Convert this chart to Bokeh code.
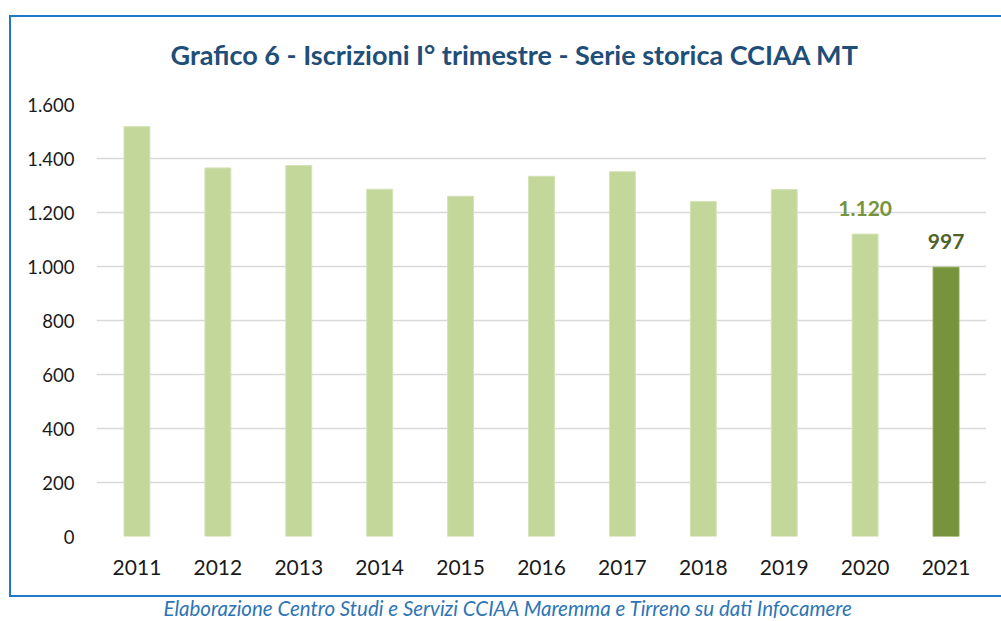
from bokeh.plotting import figure
from bokeh.models import ColumnDataSource, Title, CustomJSTickFormatter, FixedTicker, Range1d, InlineStyleSheet
from bokeh.core.properties import value
from bokeh.embed import file_html
from bokeh.resources import INLINE

years = ["2011", "2012", "2013", "2014", "2015", "2016", "2017", "2018", "2019", "2020", "2021"]
iscrizioni = [1518, 1365, 1374, 1286, 1260, 1334, 1351, 1241, 1285, 1120, 997]
labelled_years = ["2020", "2021"]
y_ticks = [0, 200, 400, 600, 800, 1000, 1200, 1400, 1600]

title_text = "Grafico 6 - Iscrizioni I° trimestre - Serie storica CCIAA MT"
footer_text = "Elaborazione Centro Studi e Servizi CCIAA Maremma e Tirreno su dati Infocamere"

LIGHT = "#C4D79B"
DARK = "#77933C"

def fmt(v):
    return "{:,}".format(v).replace(",", ".")

bar_colors = [DARK if y == "2021" else LIGHT for y in years]
bar_lines = ["#D3E2B6" if y != "2021" else "#8AA64D" for y in years]
src = ColumnDataSource(dict(x=years, top=iscrizioni, color=bar_colors, line=bar_lines))

lab_vals = [iscrizioni[years.index(y)] for y in labelled_years]
lab_src = ColumnDataSource(dict(
    x=labelled_years, y=lab_vals, text=[fmt(v) for v in lab_vals],
    color=["#77933C" if y == "2020" else "#4F6228" for y in labelled_years]))

p = figure(x_range=years, y_range=Range1d(0, 1600), width=1001, height=621,
           output_backend="svg", toolbar_location=None,
           min_border_left=96, min_border_right=15, min_border_top=104, min_border_bottom=85)
p.x_range.range_padding = 0
p.outline_line_color = None
p.background_fill_color = "white"
p.border_fill_color = "white"

p.vbar(x="x", top="top", width=0.32, fill_color="color", line_color="line", line_width=1, source=src)
p.text(x="x", y="y", text="text", text_color="color", source=lab_src,
       text_font=value("Lato"), text_font_style="bold", text_font_size="21px",
       text_align="center", text_baseline="middle", y_offset=-26)

p.xgrid.grid_line_color = None
p.ygrid.grid_line_color = "#D9D9D9"
p.ygrid.grid_line_width = 1.5

p.yaxis.ticker = FixedTicker(ticks=y_ticks)
p.yaxis.formatter = CustomJSTickFormatter(code="return tick.toString().replace(/\\B(?=(\\d{3})+(?!\\d))/g, '.')")
for ax in (p.xaxis, p.yaxis):
    ax.axis_line_color = None
    ax.major_tick_line_color = None
    ax.minor_tick_line_color = None
    ax.major_label_text_font = "Lato"
    ax.major_label_text_color = "#1a1a1a"
p.yaxis.major_label_text_font_size = "18.5px"
p.yaxis.major_label_standoff = 16
p.xaxis.major_label_text_font_size = "21px"
p.xaxis.major_label_standoff = 17

title = Title(text=title_text, align="left", offset=74, standoff=68,
              text_font="Lato", text_font_style="bold", text_font_size="27px",
              text_color="#1F4E79")
p.add_layout(title, "above")

footer = Title(text=footer_text, align="left", offset=67, standoff=0,
               padding=dict(left=0, right=0, top=16, bottom=0),
               text_font="Lato", text_font_style="italic", text_font_size="20.5px",
               text_color="#2E75B6")
p.add_layout(footer, "below")

css = """
:host { position: relative; }
:host::after {
  content: ""; position: absolute; left: 9px; top: 15px; right: 0px; height: 582px;
  border-top: 2px solid #1F78C8; border-left: 2px solid #1F78C8; border-bottom: 2px solid #1F78C8;
  box-sizing: border-box; pointer-events: none;
}
"""
p.stylesheets = [InlineStyleSheet(css=css)]

open("out.html", "w").write(file_html(p, INLINE))
